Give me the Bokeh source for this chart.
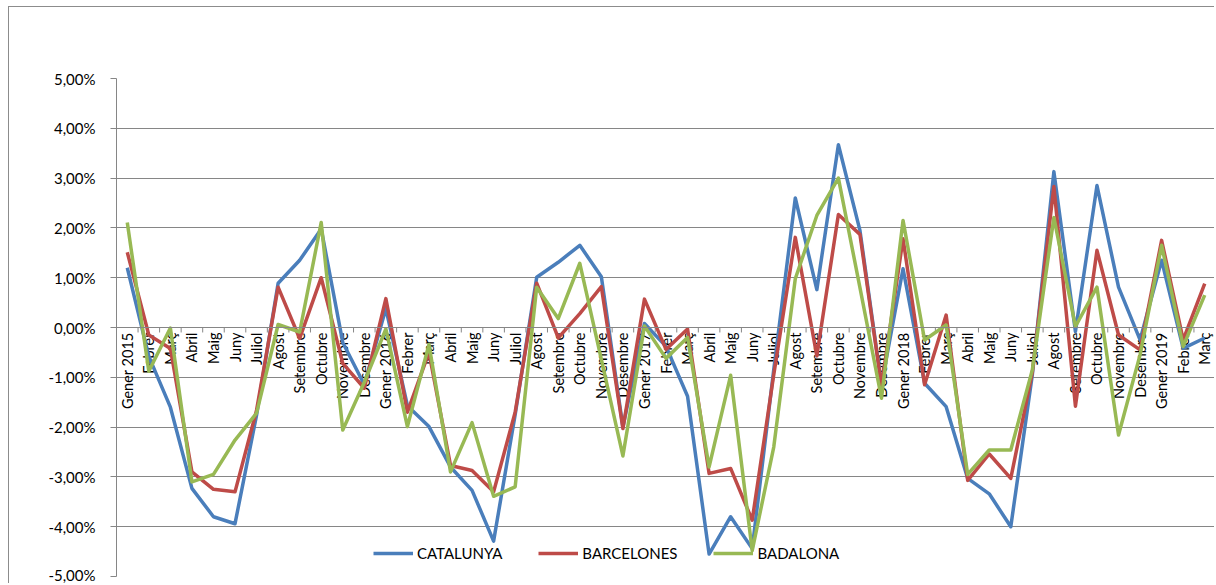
import numpy as np
from bokeh.plotting import figure
from bokeh.models import FixedTicker, CustomJSTickFormatter, Span, Range1d
from bokeh.core.properties import value
from bokeh.embed import file_html
from bokeh.resources import INLINE

months = ["Gener 2015", "Febrer", "Març", "Abril", "Maig", "Juny", "Juliol", "Agost",
          "Setembre", "Octubre", "Novembre", "Desembre",
          "Gener 2016", "Febrer", "Març", "Abril", "Maig", "Juny", "Juliol", "Agost",
          "Setembre", "Octubre", "Novembre", "Desembre",
          "Gener 2017", "Febrer", "Març", "Abril", "Maig", "Juny", "Juliol", "Agost",
          "Setembre", "Octubre", "Novembre", "Desembre",
          "Gener 2018", "Febrer", "Març", "Abril", "Maig", "Juny", "Juliol", "Agost",
          "Setembre", "Octubre", "Novembre", "Desembre",
          "Gener 2019", "Febrer", "Març"]

catalunya = [1.20, -0.58, -1.60, -3.23, -3.80, -3.94, -1.76, 0.89, 1.35, 1.98, -0.30, -1.15,
             0.38, -1.57, -1.99, -2.80, -3.27, -4.29, -1.75, 1.01, 1.31, 1.65, 1.02, -2.00,
             0.08, -0.38, -1.38, -4.55, -3.80, -4.44, -0.85, 2.60, 0.76, 3.67, 1.95, -1.15,
             1.18, -1.12, -1.59, -3.03, -3.34, -4.00, -0.95, 3.13, -0.08, 2.85, 0.81, -0.25,
             1.35, -0.42, -0.21]

barcelones = [1.51, -0.15, -0.42, -2.90, -3.25, -3.30, -1.66, 0.81, -0.22, 1.00, -0.72, -1.22,
              0.58, -1.70, -0.50, -2.77, -2.87, -3.30, -1.70, 0.89, -0.21, 0.28, 0.82, -2.03,
              0.57, -0.44, -0.03, -2.93, -2.83, -3.87, -0.95, 1.81, -0.57, 2.27, 1.87, -1.17,
              1.78, -1.15, 0.25, -3.07, -2.54, -3.03, -0.90, 2.83, -1.58, 1.55, -0.15, -0.45,
              1.75, -0.25, 0.88]

badalona = [2.11, -0.88, -0.01, -3.10, -2.95, -2.26, -1.72, 0.06, -0.09, 2.11, -2.06, -1.10,
            -0.03, -1.99, -0.34, -2.90, -1.91, -3.39, -3.20, 0.81, 0.18, 1.29, -0.64, -2.58,
            0.03, -0.62, -0.20, -2.80, -0.96, -4.48, -2.40, 0.98, 2.25, 3.00, 0.80, -1.42,
            2.15, -0.25, 0.05, -2.95, -2.46, -2.46, -0.85, 2.21, 0.02, 0.81, -2.16, -0.55,
            1.65, -0.38, 0.65]

series_names = ["CATALUNYA", "BARCELONES", "BADALONA"]
y_ticks = [-5, -4, -3, -2, -1, 0, 1, 2, 3, 4, 5]

n = len(months)
xs = np.arange(n) + 0.5
FONT = "Lato"
GRID = "#868686"

p = figure(width=1206, height=577, output_backend="svg", toolbar_location=None,
           x_range=Range1d(0, n), y_range=Range1d(-5, 5),
           x_axis_location=None, min_border_left=107, min_border_right=0,
           min_border_top=71, min_border_bottom=8)
p.styles = {"margin-left": "8px", "margin-top": "6px",
            "border-left": "1px solid #8c8c8c", "border-top": "1px solid #8c8c8c"}
p.outline_line_color = None
p.background_fill_color = "white"
p.border_fill_color = "white"

p.xgrid.visible = False
p.ygrid.grid_line_color = GRID
p.ygrid.grid_line_width = 1
p.yaxis.ticker = FixedTicker(ticks=y_ticks)
p.yaxis.formatter = CustomJSTickFormatter(code="return tick.toFixed(2).replace('.', ',') + '%';")
p.yaxis.axis_line_color = GRID
p.yaxis.major_tick_line_color = GRID
p.yaxis.major_tick_out = 6
p.yaxis.major_tick_in = 0
p.yaxis.minor_tick_line_color = None
p.yaxis.major_label_standoff = 15
p.yaxis.major_label_text_font = FONT
p.yaxis.major_label_text_font_size = "15px"
p.yaxis.major_label_text_color = "black"

# category axis at zero
p.add_layout(Span(location=0, dimension="width", line_color=GRID, line_width=1))
bounds = np.arange(n + 1)
p.segment(x0=bounds, y0=np.zeros(n + 1), x1=bounds, y1=np.full(n + 1, -0.1),
          line_color=GRID, line_width=1)
p.text(x=xs, y=np.zeros(n), text=months, angle=np.pi / 2, text_align="right",
       text_baseline="middle", y_offset=5, text_font=value(FONT),
       text_font_size="14.5px", text_color="black")

colors = ["#4A7EBB", "#BE4B48", "#98B954"]
for vals, name, c in zip([catalunya, barcelones, badalona], series_names, colors):
    p.line(xs, vals, line_color=c, line_width=3.5, line_join="round", legend_label=name)

lg = p.legend[0]
lg.orientation = "horizontal"
lg.location = (257, 13)
lg.background_fill_alpha = 0
lg.border_line_alpha = 0
lg.glyph_width = 40
lg.glyph_height = 20
lg.label_height = 20
lg.label_standoff = 4
lg.spacing = 36
lg.padding = 0
lg.margin = 0
lg.label_text_font = FONT
lg.label_text_font_size = "15px"
lg.label_text_color = "black"

open("out.html", "w").write(file_html(p, INLINE))
